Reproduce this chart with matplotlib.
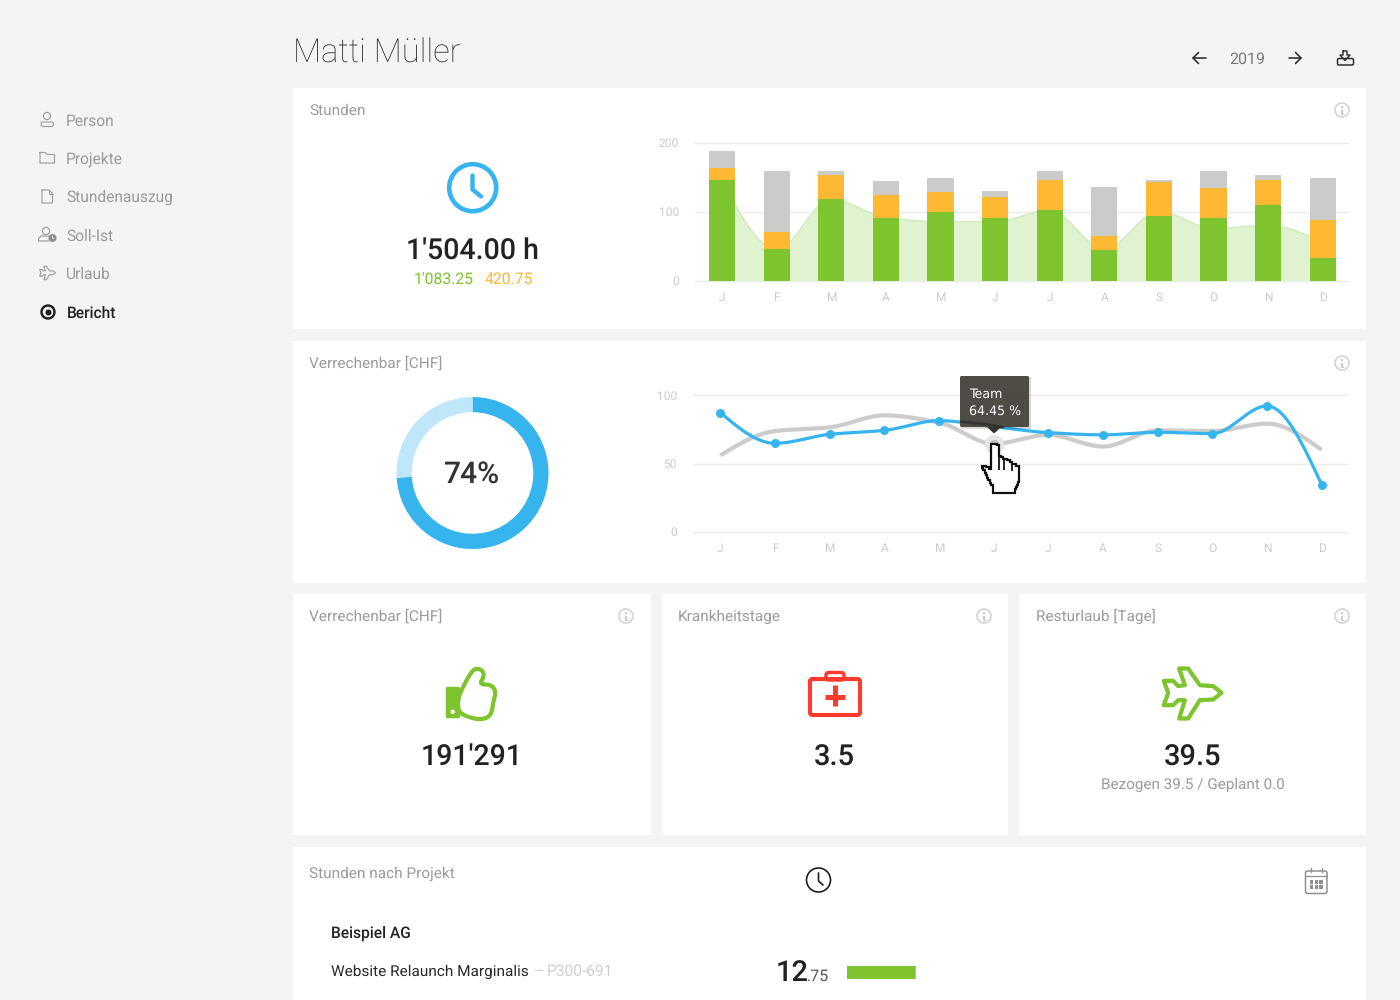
import numpy as np
import matplotlib
matplotlib.use("Agg")
import matplotlib.pyplot as plt
from matplotlib.patches import Circle, Rectangle, FancyBboxPatch, Polygon

plt.rcParams['font.family'] = ['Roboto', 'DejaVu Sans']
plt.rcParams['text.hinting'] = 'none'

months = ['J', 'F', 'M', 'A', 'M', 'J', 'J', 'A', 'S', 'O', 'N', 'D']
hours_billable = [145.4, 45, 118, 91, 99, 91, 102, 43.5, 94, 91, 108.7, 32]
hours_other = [17.4, 25.5, 35, 33.6, 29, 30, 43, 20.5, 48.5, 43, 36.3, 56]
hours_rest = [24.2, 87.5, 5, 19.4, 20, 8.5, 13, 71, 3, 24, 8, 60]
hours_team = [145, 45, 118, 91, 85, 85, 102, 45, 100, 75, 80, 55]
hour_ticks = [0, 100, 200]
rate_person = [87.3, 64.8, 71.4, 74.3, 81.4, 77, 72.6, 71, 72.9, 71.9, 92.2, 34.5]
rate_team = [56, 73.8, 76.5, 85.3, 80, 64.45, 71, 62.4, 74.3, 73.8, 79.2, 60]
rate_ticks = [0, 50, 100]
donut_values = [74, 26]
project_hours = [12.5, 0.25]

GREEN, ORANGE, GRAY = '#7DC42F', '#FFB833', '#CBCBC9'
BLUE, LBLUE = '#36B4EE', '#C0E6FA'
TXT, DARK, TICK = '#9B9B9B', '#222222', '#CCCCCC'
W, H = 1400, 1000


def px(s):
    return s * 0.72


def monotone(values, n=40):
    """Monotone cubic curve through evenly spaced values."""
    y = np.asarray(values, float)
    d = np.diff(y)
    m = np.zeros_like(y)
    for i in range(1, len(y) - 1):
        if d[i - 1] * d[i] > 0:
            m[i] = 2 * d[i - 1] * d[i] / (d[i - 1] + d[i])
    m[0] = (3 * d[0] - m[1]) / 2
    m[-1] = (3 * d[-1] - m[-2]) / 2
    xs, ys = [], []
    for i in range(len(d)):
        t = np.linspace(0, 1, n, endpoint=False)
        ys.append((2*t**3 - 3*t**2 + 1)*y[i] + (t**3 - 2*t**2 + t)*m[i]
                  + (-2*t**3 + 3*t**2)*y[i+1] + (t**3 - t**2)*m[i+1])
        xs.append(i + t)
    return np.r_[np.concatenate(xs), len(y) - 1], np.r_[np.concatenate(ys), y[-1]]


def chaikin(pts, it=2):
    p = np.array(pts, float)
    for _ in range(it):
        q = np.roll(p, -1, axis=0)
        p = np.column_stack([0.75 * p + 0.25 * q, 0.25 * p + 0.75 * q]).reshape(-1, 2)
    return p


def stair(pts, step=2.4):
    out = []
    n = len(pts)
    for i in range(n):
        x0, y0 = pts[i]
        x1, y1 = pts[(i + 1) % n]
        out.append((x0, y0))
        if x0 != x1 and y0 != y1:
            k = max(1, int(round(max(abs(x1 - x0), abs(y1 - y0)) / step)))
            for j in range(k):
                xb = x0 + (x1 - x0) * (j + 1) / k
                out.append((xb, y0 + (y1 - y0) * j / k))
                out.append((xb, y0 + (y1 - y0) * (j + 1) / k))
    return out


fig = plt.figure(figsize=(14, 10), dpi=100, facecolor='#F4F4F4')
ui = fig.add_axes([0, 0, 1, 1], zorder=0)
ui.set_xlim(0, W)
ui.set_ylim(H, 0)
ui.axis('off')
over = fig.add_axes([0, 0, 1, 1], zorder=10)
over.set_xlim(0, W)
over.set_ylim(H, 0)
over.axis('off')
over.patch.set_alpha(0)


def axes_px(x0, x1, y_top, y_bot, zorder=2):
    return fig.add_axes([x0 / W, 1 - y_bot / H, (x1 - x0) / W, (y_bot - y_top) / H], zorder=zorder)


def T(x, y, s, size=15.4, color=TXT, ha='left', weight='normal', ax=None, **kw):
    dy = 0.6 if size < 20 else 2.4
    return (ax or ui).text(x, y + dy, s, fontsize=px(size), color=color, ha=ha, va='center',
                           fontweight=weight, **kw)


def line(pts, color, lw, ax=None, cap='round', join='round', zorder=3):
    a = np.array(pts, float)
    (ax or ui).plot(a[:, 0], a[:, 1], color=color, lw=px(lw), solid_capstyle=cap,
                    solid_joinstyle=join, zorder=zorder)


def ring(x, y, r, color, lw, ax=None, fill='none', zorder=3):
    (ax or ui).add_patch(Circle((x, y), r, fc=fill, ec=color, lw=px(lw), zorder=zorder))


def rrect(x0, y0, x1, y1, r, ec, lw, fc='none', ax=None, zorder=3):
    (ax or ui).add_patch(FancyBboxPatch((x0 + r, y0 + r), x1 - x0 - 2 * r, y1 - y0 - 2 * r,
                                        boxstyle=f'round,pad={r},rounding_size={r}',
                                        fc=fc, ec=ec, lw=px(lw), zorder=zorder))


# cards
for x0, y0, x1, y1 in [(293, 88, 1366, 329), (293, 341, 1366, 582.5), (293, 594, 651, 835),
                       (662, 594, 1008, 835), (1019, 594, 1366, 835), (293, 847, 1366, 1001)]:
    ui.add_patch(Rectangle((x0, y0), x1 - x0, y1 - y0, fc='white', ec='none', zorder=1))

# header
T(293, 51.5, 'Matti Müller', 32.8, '#333333', weight='light')
T(1247, 58.6, '2019', 16, '#7A7A7A', ha='center')
line([(1193, 58), (1206, 58)], '#2B2B2B', 1.6)
line([(1198.5, 52.5), (1193, 58), (1198.5, 63.5)], '#2B2B2B', 1.6)
line([(1289, 58), (1301, 58)], '#2B2B2B', 1.6)
line([(1295.5, 52.5), (1301, 58), (1295.5, 63.5)], '#2B2B2B', 1.6)
line([(1343, 51), (1347, 51), (1347, 55), (1350, 55), (1345, 60.5), (1340, 55), (1343, 55), (1343, 51)], '#2B2B2B', 1.4)
rrect(1337.5, 58.5, 1353.5, 65, 1.5, '#2B2B2B', 1.5)

# sidebar
for y, s in [(120, 'Person'), (158, 'Projekte'), (196.5, 'Stundenauszug'), (235, 'Soll-Ist'), (273, 'Urlaub')]:
    T(66, y + 0.6, s, 15.5)
T(66.5, 312.6, 'Bericht', 15.5, DARK, weight='medium')
ic = '#9F9F9F'
ring(47, 116, 3.6, ic, 1.2)
rrect(41, 122, 53.5, 126.5, 2.2, ic, 1.2)
line([(40, 152.5), (45, 152.5), (47, 154.5), (54.5, 154.5), (54.5, 163), (40, 163), (40, 152.5)], ic, 1.2)
line([(42, 190), (49, 190), (52.5, 193.5), (52.5, 203), (42, 203), (42, 190)], ic, 1.2)
line([(49, 190), (49, 193.5), (52.5, 193.5)], ic, 1.0)
ring(46, 231, 3.6, ic, 1.2)
line([(49, 241), (38.5, 241), (38.5, 239), (41, 236), (50, 236)], ic, 1.2)
ui.add_patch(Circle((52.5, 238), 4, fc='#8E8E8E', ec='none', zorder=3))
line([(52.5, 236), (52.5, 238.2), (54, 238.5)], 'white', 0.8, zorder=4)
ring(48, 312, 6.5, '#1E1E1E', 2.4)
ui.add_patch(Circle((48.5, 312.5), 3, fc='#1E1E1E', ec='none', zorder=3))


def plane(cx, cy, scale, color, lw):
    z = [(215, 128), (190, 108), (150, 105), (115, 55), (88, 55), (105, 105), (85, 108), (70, 92),
         (42, 92), (55, 128), (42, 165), (70, 165), (85, 150), (105, 150), (88, 205), (115, 205),
         (150, 150), (190, 148)]
    p = [(cx + (a - 128) / 3 * scale, cy + (b - 130) / 3 * scale) for a, b in z]
    ui.add_patch(Polygon(p, closed=True, fc='none', ec=color, lw=px(lw), joinstyle='round', zorder=3))


plane(47.5, 273, 0.27, ic, 1.2)


def info(x, y):
    ring(x, y, 7, '#CDCDCD', 1.4)
    line([(x, y - 0.5), (x, y + 3.5)], '#C4C4C4', 1.8, cap='butt')
    line([(x, y - 3.6), (x, y - 2.0)], '#C4C4C4', 1.8, cap='butt')
    line([(x - 1.5, y + 3.5), (x + 1.5, y + 3.5)], '#C4C4C4', 1.0, cap='butt')


for x, y in [(1342, 110), (1342, 363), (626, 616), (984, 616), (1342, 616)]:
    info(x, y)

# card titles
T(309, 110, 'Stunden')
T(309, 363, 'Verrechenbar [CHF]')
T(309, 616, 'Verrechenbar [CHF]')
T(678, 616, 'Krankheitstage')
T(1036, 616, 'Resturlaub [Tage]')
T(309, 873, 'Stunden nach Projekt')

# big clock
ring(472.7, 187.7, 23.5, BLUE, 4.6)
line([(472.5, 175.5), (472.5, 189.5), (481, 196.5)], BLUE, 4.4, join='miter')
T(472.5, 249, "1'504.00 h", 28.5, '#222222', ha='center', weight='medium')
T(413.5, 278.6, "1'083.25", 15.7, GREEN)
T(485, 278.6, '420.75', 15.7, ORANGE)

# stacked bars
ax = axes_px(694.8, 1350, 140.5, 282.5)
ax.set_xlim(-0.5, 11.5)
ax.set_ylim(-2 / 0.69, 200 + 2 / 0.69)
ax.patch.set_alpha(0)
xc, yc = monotone(hours_team)
ax.fill_between(xc, 0, yc, color='#E0F3D0', lw=0, zorder=1)
ax.plot(xc, yc, color='#D3ECBF', lw=1.2, zorder=1.1)
xs = np.arange(12)
g, o, r = np.array(hours_billable), np.array(hours_other), np.array(hours_rest)
ax.bar(xs, g, 0.48, color=GREEN, zorder=2)
ax.bar(xs, o, 0.48, bottom=g, color=ORANGE, zorder=2)
ax.bar(xs, r, 0.48, bottom=g + o, color=GRAY, zorder=2)
ax.set_yticks(hour_ticks)
ax.set_xticks(xs, months)


def style(a):
    for s in a.spines.values():
        s.set_visible(False)
    a.grid(axis='y', color='#EBEBEB', lw=1, zorder=0)
    a.set_axisbelow(True)
    a.tick_params(length=0, labelcolor=TICK, labelsize=px(12))
    a.tick_params(axis='x', pad=6.5)
    a.tick_params(axis='y', pad=11.5)


style(ax)

# donut
dn = axes_px(392, 553, 392.5, 553.5)
dn.pie(donut_values, colors=[BLUE, LBLUE], startangle=90, counterclock=False, radius=1,
       wedgeprops=dict(width=0.2, lw=0))
dn.set_xlim(-80.5 / 76, 80.5 / 76)
dn.set_ylim(-80.5 / 76, 80.5 / 76)
T(472.5, 472.5, '74%', 30, '#333333', ha='center', weight='medium')

# lines
al = axes_px(693, 1349, 393.3, 533.7)
al.set_xlim(-0.5, 11.5)
al.set_ylim(-2 / 1.364, 100 + 2 / 1.364)
al.patch.set_alpha(0)
xc, yc = monotone(rate_team)
al.plot(xc, yc, color='#CCCCCA', lw=px(4.2), solid_capstyle='butt', zorder=2)
al.scatter([5], [rate_team[5]], s=(px(19)) ** 2, color='#E6E6E6', lw=0, zorder=2.5)
al.scatter([5], [rate_team[5]], s=(px(9)) ** 2, color='#BBBBBB', lw=0, zorder=2.6)
xc, yc = monotone(rate_person)
al.plot(xc, yc, color=BLUE, lw=px(3.2), zorder=3)
al.scatter(xs, rate_person, s=px(9) ** 2, color=BLUE, lw=0, zorder=4)
al.set_yticks(rate_ticks)
al.set_xticks(xs, months)
style(al)

# tooltip
over.add_patch(Rectangle((961, 377), 69.5, 51.5, fc='#00000026', ec='none', zorder=1))
over.add_patch(FancyBboxPatch((961, 377), 67, 49, boxstyle='round,pad=1,rounding_size=1.5',
                              fc='#4A4640', ec='none', alpha=0.97, zorder=2))
over.add_patch(Polygon([(987, 427), (1001, 427), (994, 433.5)], closed=True, fc='#35322D', ec='none', zorder=2))
line([(961, 421.5), (985, 424), (1003, 427)], '#35322D', 2.5, ax=over, zorder=2.1)
T(969, 393.3, 'Team', 12.6, 'white', ax=over, family='DejaVu Sans', zorder=3)
T(969, 410.3, '64.45 %', 12.6, 'white', ax=over, family='DejaVu Sans', zorder=3)

# hand cursor
hand = [(991, 445), (991, 469), (988.5, 469), (988.5, 466.5), (983, 465.5), (982, 468),
        (991, 485), (993, 488), (993, 493), (1015, 493), (1015, 489), (1019, 480), (1019, 466),
        (1016, 464), (1013, 464), (1012, 461.5), (1007, 459), (1004, 459), (1003, 456.5),
        (999, 456), (999, 445), (997, 443.5), (993, 443.5)]
over.add_patch(Polygon(stair(hand), closed=True, fc='white', ec='#111111', lw=px(2.2),
                       joinstyle='miter', zorder=4))
line([(1004, 460), (1004, 470)], '#111111', 1.8, ax=over, cap='butt', zorder=5)
line([(1012, 463), (1012, 471)], '#111111', 1.8, ax=over, cap='butt', zorder=5)
line([(998.5, 457), (998.5, 470)], '#111111', 1.8, ax=over, cap='butt', zorder=5)


def zmap(pts, ox, oy):
    return [(ox + a / 3, oy + b / 3) for a, b in pts]


# thumb
thumb = [(120, 128), (150, 72), (165, 55), (188, 60), (192, 80), (178, 103), (214, 104), (228, 125),
         (220, 155), (214, 195), (190, 208), (160, 206), (118, 190), (112, 160)]
ui.add_patch(Polygon(chaikin(zmap(thumb, 420, 650)), closed=True, fc='white', ec=GREEN, lw=px(4.2),
                     joinstyle='round', zorder=3))
rrect(446, 687, 460, 718, 1.5, GREEN, 0.5, fc=GREEN, zorder=3.5)
ui.add_patch(Circle((452.7, 711.8), 2.2, fc='white', ec='none', zorder=4))
T(472, 755, "191'291", 28.5, '#222222', ha='center', weight='medium')

# medical kit
RED = '#FF3B30'
rrect(810, 679, 860, 715, 2.5, RED, 4.1)
rrect(826, 672.5, 844, 680, 2.5, RED, 3.4)
line([(835, 685), (835, 706)], RED, 5, cap='butt')
line([(825, 697), (845, 697)], RED, 5, cap='butt')
T(834.5, 755, '3.5', 29, '#222222', ha='center', weight='medium')

# plane
plane(1192.5, 693.5, 1.0, GREEN, 4.2)
T(1192.5, 755, '39.5', 29, '#222222', ha='center', weight='medium')
T(1192.5, 784, 'Bezogen 39.5 / Geplant 0.0', 15.3, TXT, ha='center')

# last card
ring(818.5, 880, 12, '#222222', 1.7)
line([(818.5, 873), (818.5, 881), (823, 885)], '#222222', 1.7)
cal = '#8F8F8F'
rrect(1305.5, 871, 1327, 893.5, 2, cal, 1.5)
line([(1305.5, 876), (1327, 876)], cal, 1.2)
line([(1310.5, 867.5), (1310.5, 872)], cal, 1.3)
line([(1321.5, 867.5), (1321.5, 872)], cal, 1.3)
for cy_ in (882, 887):
    for cx_ in (1311.5, 1316.2, 1321):
        ui.add_patch(Rectangle((cx_ - 1.6, cy_ - 1.6), 3.2, 3.2, fc=cal, ec='none', zorder=3))
T(331, 932.6, 'Beispiel AG', 15.5, DARK, weight='medium')
T(331, 971, 'Website Relaunch Marginalis', 15.35, '#2A2A2A')
T(534, 971, '–', 15.5, '#CFCFCF')
T(547, 971, 'P300-691', 15.5, '#CFCFCF')
T(775.5, 971, '12', 29, '#222222', weight='medium')
T(807, 975.5, '.75', 16, '#555555')
ab = axes_px(847, 916, 965.5, 979)
ab.barh([0], [project_hours[0]], 1, color=GREEN)
ab.barh([0], [project_hours[1]], 1, left=[project_hours[0]], color=ORANGE)
ab.set_xlim(0, sum(project_hours))
ab.set_ylim(-0.5, 0.5)
ab.axis('off')

fig.savefig('out.png', dpi=100, facecolor=fig.get_facecolor())
